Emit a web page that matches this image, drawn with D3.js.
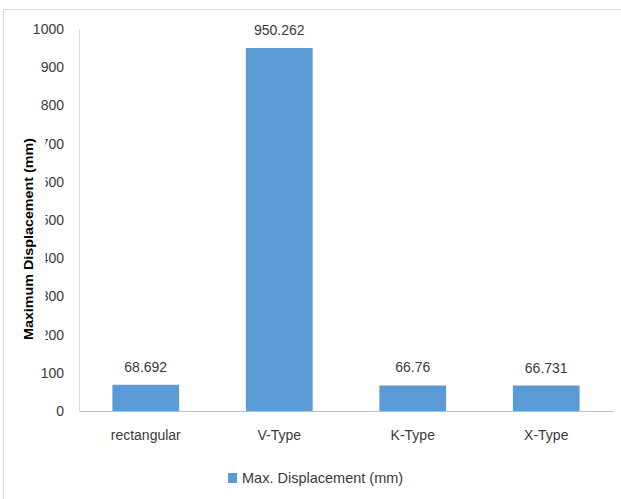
<!DOCTYPE html>
<html>
<head>
<meta charset="utf-8">
<script src="https://cdn.jsdelivr.net/npm/d3@7"></script>
<style>
  html, body { margin: 0; padding: 0; background: #fff; }
  svg { display: block; font-family: "Liberation Sans", Arial, sans-serif; }
</style>
</head>
<body>
<svg id="chart" width="621" height="499"></svg>
<script>
// Maximum displacement per bracing type
const categories = ["rectangular", "V-Type", "K-Type", "X-Type"];
const displacement = [68.692, 950.262, 66.76, 66.731];
const valueLabels = ["68.692", "950.262", "66.76", "66.731"];
const yTicks = [0, 100, 200, 300, 400, 500, 600, 700, 800, 900, 1000];
const seriesName = "Max. Displacement (mm)";
const yTitle = "Maximum Displacement (mm)";

const svg = d3.select("#chart");
const textColor = "#3a3a3a";
const barColor = "#5b9bd5";

// outer frame of the chart
svg.append("rect")
  .attr("x", 3.5).attr("y", 9.5)
  .attr("width", 640).attr("height", 520)
  .attr("fill", "#fff").attr("stroke", "#d9d9d9");

const plot = { left: 79, right: 613, top: 29, bottom: 411 };

const x = d3.scaleBand()
  .domain(categories)
  .range([plot.left, plot.right])
  .paddingInner(0.5).paddingOuter(0.25);

const y = d3.scaleLinear()
  .domain([0, 1000])
  .range([plot.bottom, plot.top]);

// y axis (labels only, light vertical line)
const yAxis = svg.append("g")
  .attr("transform", `translate(${plot.left},0)`)
  .call(d3.axisLeft(y).tickValues(yTicks).tickSize(0).tickPadding(15).tickFormat(d3.format("d")));
yAxis.select(".domain").attr("stroke", "#d9d9d9");
yAxis.selectAll("text")
  .attr("fill", textColor)
  .attr("font-size", 14)
  .attr("font-family", "Liberation Sans, Arial, sans-serif");

// bars
svg.append("g").selectAll("rect")
  .data(categories)
  .join("rect")
  .attr("x", d => x(d))
  .attr("width", x.bandwidth())
  .attr("y", (d, i) => y(displacement[i]))
  .attr("height", (d, i) => y(0) - y(displacement[i]))
  .attr("fill", barColor);

// value labels
svg.append("g").selectAll("text")
  .data(categories)
  .join("text")
  .attr("x", d => x(d) + x.bandwidth() / 2)
  .attr("y", (d, i) => y(displacement[i]) - 13)
  .attr("text-anchor", "middle")
  .attr("font-size", 14)
  .attr("fill", textColor)
  .text((d, i) => valueLabels[i]);

// x axis
const xAxis = svg.append("g")
  .attr("transform", `translate(0,${plot.bottom})`)
  .call(d3.axisBottom(x).tickSize(0).tickPadding(19));
xAxis.select(".domain").attr("stroke", "#bfbfbf");
xAxis.selectAll("text")
  .attr("fill", textColor)
  .attr("font-size", 14)
  .attr("font-family", "Liberation Sans, Arial, sans-serif");

// y axis title with its white box
svg.append("rect")
  .attr("x", 18).attr("y", 130)
  .attr("width", 27.5).attr("height", 217)
  .attr("fill", "#fff");
svg.append("text")
  .attr("transform", "translate(33,239) rotate(-90)")
  .attr("text-anchor", "middle")
  .attr("font-size", 13)
  .attr("font-weight", "bold")
  .attr("fill", "#000")
  .attr("textLength", 202)
  .attr("lengthAdjust", "spacingAndGlyphs")
  .text(yTitle);

// legend
const legend = svg.append("g");
legend.append("rect")
  .attr("x", 228).attr("y", 473)
  .attr("width", 9).attr("height", 10)
  .attr("fill", barColor);
legend.append("text")
  .attr("x", 242).attr("y", 483)
  .attr("font-size", 14.5)
  .attr("fill", textColor)
  .text(seriesName);
</script>
</body>
</html>
